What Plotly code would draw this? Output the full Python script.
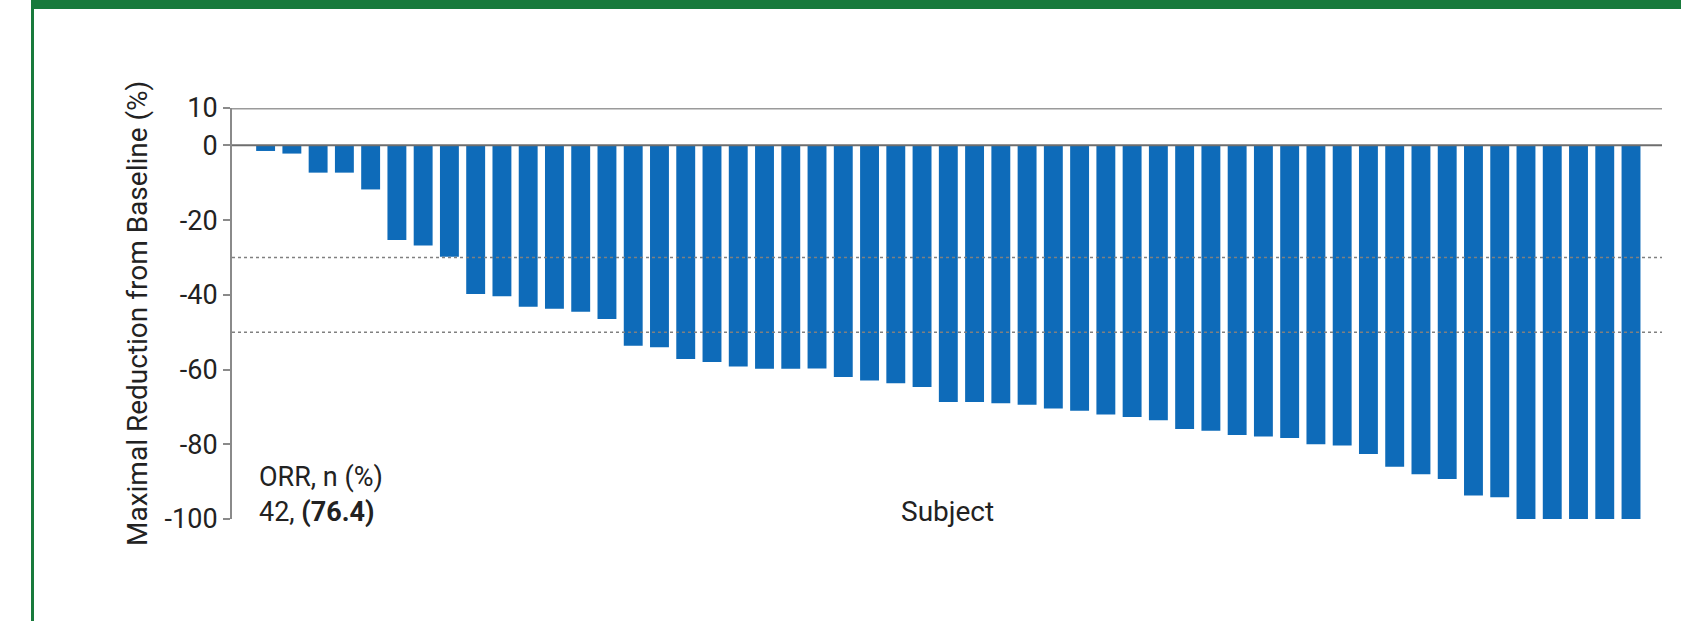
import plotly.graph_objects as go

# Maximal reduction from baseline per subject (%), sorted
subjects = list(range(1, 54))
reduction = [
    -1.5, -2.2, -7.3, -7.3, -11.8, -25.3, -26.8, -29.8, -39.8, -40.4,
    -43.2, -43.7, -44.5, -46.5, -53.6, -54.0, -57.2, -58.0, -59.2, -59.8,
    -59.8, -59.7, -62.0, -62.9, -63.7, -64.7, -68.7, -68.7, -69.0, -69.4,
    -70.4, -71.0, -72.0, -72.7, -73.6, -75.9, -76.4, -77.5, -77.9, -78.3,
    -80.0, -80.3, -82.6, -86.0, -88.0, -89.3, -93.7, -94.2, -100.0, -100.0,
    -100.0, -100.0, -100.0,
]
y_ticks = [10, 0, -20, -40, -60, -80, -100]
thresholds = [-30, -50]
orr_n, orr_pct = 42, 76.4

W, H = 1681, 621
L, R, T, B = 232, 19, 108, 102
PW, PH = W - L - R, H - T - B

BAR = "#0e6bb9"
GREEN = "#187a3c"
INK = "#222222"
FONT = "Roboto"


def px(xp):
    return (xp - L) / PW


def py(yp):
    return (H - B - yp) / PH


fig = go.Figure(
    go.Bar(
        x=subjects,
        y=reduction,
        marker=dict(color=BAR, line=dict(width=0)),
        width=0.72,
    )
)

shapes = [
    # reference lines at +10 and 0
    dict(type="line", xref="paper", yref="y", x0=0, x1=1, y0=10, y1=10,
         line=dict(color="#9a9a9a", width=3)),
    dict(type="line", xref="paper", yref="y", x0=0, x1=1, y0=0, y1=0,
         line=dict(color="#6e6e6e", width=2)),
]
for t in thresholds:
    shapes.append(dict(type="line", xref="paper", yref="y", x0=0, x1=1, y0=t, y1=t,
                       layer="above", line=dict(color="#808080", width=1.5, dash="dot")))

# green panel frame: thick top band and thin left rule
shapes.append(dict(type="rect", xref="paper", yref="paper",
                   x0=px(31), x1=px(W + 5), y0=py(9), y1=py(-5),
                   fillcolor=GREEN, line=dict(width=0), layer="above"))
shapes.append(dict(type="rect", xref="paper", yref="paper",
                   x0=px(31), x1=px(34), y0=py(H + 5), y1=py(0),
                   fillcolor=GREEN, line=dict(width=0), layer="above"))

annotations = [
    dict(text="Maximal Reduction from Baseline (%)", textangle=-90,
         xref="paper", yref="paper", x=px(137), y=py(314),
         xanchor="center", yanchor="middle", showarrow=False,
         font=dict(family=FONT, size=28, color=INK)),
    dict(text="Subject", xref="paper", yref="paper", x=0.5, y=py(511),
         xanchor="center", yanchor="middle", showarrow=False,
         font=dict(family=FONT, size=28, color=INK)),
    dict(text=f"ORR, n (%)<br>{orr_n}, <b>({orr_pct})</b>", align="left",
         xref="paper", yref="paper", x=px(257), y=py(494),
         xanchor="left", yanchor="middle", showarrow=False,
         font=dict(family=FONT, size=27, color=INK)),
]

fig.update_layout(
    width=W, height=H,
    margin=dict(l=L, r=R, t=T, b=B, pad=0),
    paper_bgcolor="white", plot_bgcolor="white",
    showlegend=False, bargap=0.28,
    shapes=shapes, annotations=annotations,
    font=dict(family=FONT, color=INK),
)
fig.update_xaxes(range=[subjects[0] - 1.28, subjects[-1] + 1.18],
                 visible=False, showgrid=False, zeroline=False)
fig.update_yaxes(range=[-100, 10], tickvals=y_ticks, ticktext=[str(v) for v in y_ticks],
                 showline=True, linecolor="#8a8a8a", linewidth=2,
                 ticks="outside", ticklen=7, tickcolor="#8a8a8a", tickwidth=2,
                 showgrid=False, zeroline=False,
                 tickfont=dict(family=FONT, size=27, color=INK))

fig.write_html("out.html")
